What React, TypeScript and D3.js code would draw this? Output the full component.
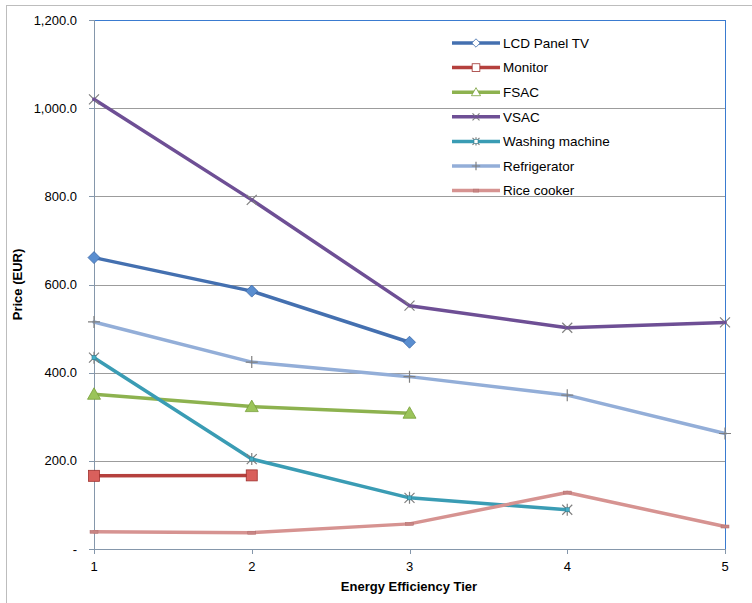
import React from "react";
import * as d3 from "d3";

const tiers = [1, 2, 3, 4, 5];
const yTicks = [0, 200, 400, 600, 800, 1000, 1200];

const lcdPanelTv = [661, 585, 469];
const monitor = [166, 167];
const fsac = [351, 323, 308];
const vsac = [1020, 792, 552, 502, 514];
const washingMachine = [434, 204, 116, 89];
const refrigerator = [515, 424, 391, 349, 262];
const riceCooker = [39, 37, 57, 128, 51];

type Marker = "diamond" | "square" | "triangle" | "x" | "star" | "plus" | "dash";

const seriesNames = ["LCD Panel TV", "Monitor", "FSAC", "VSAC", "Washing machine", "Refrigerator", "Rice cooker"];
const seriesValues = [lcdPanelTv, monitor, fsac, vsac, washingMachine, refrigerator, riceCooker];
const seriesColors = ["#4470B0", "#B5403D", "#8DB24F", "#6E4F95", "#3A9CB4", "#93AED8", "#D69391"];
const seriesFills = ["#5A8ED0", "#D9605C", "#9BC45A", "#7E5FA5", "#45AFC8", "#9FB8E0", "#D69391"];
const seriesMarkers: Marker[] = ["diamond", "square", "triangle", "x", "star", "plus", "dash"];

const W = 752;
const H = 603;
const plot = { left: 94, right: 725, top: 20, bottom: 549 };

function MarkerShape({ kind, x, y, color, fill, s = 1 }: { kind: Marker; x: number; y: number; color: string; fill: string; s?: number }) {
  const g = "#808080";
  const k = (v: number) => v * s;
  switch (kind) {
    case "diamond":
      return <path d={`M${x},${y - k(6)}L${x + k(6)},${y}L${x},${y + k(6)}L${x - k(6)},${y}Z`} fill={fill} stroke="#3B68A8" strokeWidth={0.8} />;
    case "square":
      return <rect x={x - k(5.5)} y={y - k(5.5)} width={k(11)} height={k(11)} fill={fill} stroke="#9E302D" strokeWidth={0.8} />;
    case "triangle":
      return <path d={`M${x},${y - k(6.5)}L${x + k(6.5)},${y + k(5)}L${x - k(6.5)},${y + k(5)}Z`} fill={fill} stroke="#77A03A" strokeWidth={0.8} />;
    case "x":
      return (
        <g stroke={g} strokeWidth={1.2}>
          <path d={`M${x - k(5)},${y - k(5)}L${x + k(5)},${y + k(5)}M${x - k(5)},${y + k(5)}L${x + k(5)},${y - k(5)}`} />
          <rect x={x - 1.5} y={y - 1.5} width={3} height={3} fill={color} stroke="none" />
        </g>
      );
    case "star":
      return (
        <g stroke={g} strokeWidth={1.2}>
          <path d={`M${x - k(5)},${y - k(5)}L${x + k(5)},${y + k(5)}M${x - k(5)},${y + k(5)}L${x + k(5)},${y - k(5)}M${x},${y - k(6)}L${x},${y + k(6)}`} />
          <rect x={x - 2} y={y - 2} width={4} height={4} fill={fill} stroke="#2F7F92" strokeWidth={0.6} />
        </g>
      );
    case "plus":
      return <path d={`M${x - k(6)},${y}L${x + k(6)},${y}M${x},${y - k(6)}L${x},${y + k(6)}`} stroke={g} strokeWidth={1.2} />;
    case "dash":
      return <rect x={x - k(4)} y={y - 1.5} width={k(8)} height={3} fill="#C98584" stroke="#B37170" strokeWidth={0.5} />;
  }
}

export default function App() {
  const x = d3.scalePoint<number>().domain(tiers).range([plot.left, plot.right]);
  const y = d3.scaleLinear().domain([0, 1200]).range([plot.bottom, plot.top]);
  const line = d3
    .line<number>()
    .x((_, i) => x(tiers[i]) as number)
    .y((d) => y(d));

  const fmt = (v: number) => (v === 0 ? "-" : d3.format(",.1f")(v));
  const font = "'Liberation Sans', Arial, sans-serif";
  const axisColor = "#8597AB";
  const legendX = 452;
  const legendY0 = 43;
  const legendStep = 24.6;

  return (
    <svg width={W} height={H} style={{ position: "absolute", left: 0, top: 0, background: "#fff" }} fontFamily={font}>
      <rect x={6.5} y={5.5} width={W + 10} height={H + 10} fill="#fff" stroke="#BDBDBD" strokeWidth={1} />

      {/* gridlines */}
      {yTicks.filter((t) => t > 0).map((t) => (
        <line key={t} x1={plot.left} x2={plot.right} y1={Math.round(y(t)) + 0.5} y2={Math.round(y(t)) + 0.5} stroke="#9C9C9C" strokeWidth={1} />
      ))}

      {/* plot frame: top and right */}
      <line x1={plot.left} x2={plot.right + 0.5} y1={plot.top + 0.5} y2={plot.top + 0.5} stroke="#3A7BD0" strokeWidth={1} />
      <line x1={plot.right + 0.5} x2={plot.right + 0.5} y1={plot.top} y2={plot.bottom} stroke="#3A7BD0" strokeWidth={1} />

      {/* axes */}
      <line x1={plot.left + 0.5} x2={plot.left + 0.5} y1={plot.top} y2={plot.bottom + 0.5} stroke={axisColor} strokeWidth={1} />
      <line x1={plot.left} x2={plot.right + 0.5} y1={plot.bottom + 0.5} y2={plot.bottom + 0.5} stroke={axisColor} strokeWidth={1} />

      {yTicks.map((t) => (
        <g key={t}>
          <line x1={plot.left - 5} x2={plot.left} y1={Math.round(y(t)) + 0.5} y2={Math.round(y(t)) + 0.5} stroke={axisColor} />
          <text x={77} y={y(t)} dy="0.35em" textAnchor="end" fontSize={13} fill="#000">
            {fmt(t)}
          </text>
        </g>
      ))}

      {tiers.map((t) => (
        <g key={t}>
          <line x1={Math.round(x(t) as number) + 0.5} x2={Math.round(x(t) as number) + 0.5} y1={plot.bottom} y2={plot.bottom + 5} stroke={axisColor} />
          <text x={x(t) as number} y={571} textAnchor="middle" fontSize={13} fill="#000">
            {t}
          </text>
        </g>
      ))}

      <text x={W / 2 + 33} y={591} textAnchor="middle" fontSize={13} fontWeight="bold" fill="#000">
        Energy Efficiency Tier
      </text>
      <text transform={`translate(22,${(plot.top + plot.bottom) / 2}) rotate(-90)`} textAnchor="middle" fontSize={13} fontWeight="bold" fill="#000">
        Price (EUR)
      </text>

      {/* series */}
      {seriesValues.map((vals, si) => (
        <g key={seriesNames[si]}>
          <path d={line(vals) ?? ""} fill="none" stroke={seriesColors[si]} strokeWidth={3.5} strokeLinejoin="round" strokeLinecap="round" />
          {vals.map((v, i) => (
            <MarkerShape key={i} kind={seriesMarkers[si]} x={x(tiers[i]) as number} y={y(v)} color={seriesColors[si]} fill={seriesFills[si]} />
          ))}
        </g>
      ))}

      {/* legend */}
      {seriesNames.map((name, si) => {
        const ly = legendY0 + si * legendStep;
        return (
          <g key={name}>
            <line x1={legendX} x2={legendX + 48} y1={ly} y2={ly} stroke={seriesColors[si]} strokeWidth={3.5} />
            <MarkerShape kind={seriesMarkers[si]} x={legendX + 24} y={ly} color={seriesColors[si]} fill="#fff" s={0.7} />
            <text x={legendX + 51} y={ly} dy="0.35em" fontSize={13.5} fill="#000">
              {name}
            </text>
          </g>
        );
      })}
    </svg>
  );
}
